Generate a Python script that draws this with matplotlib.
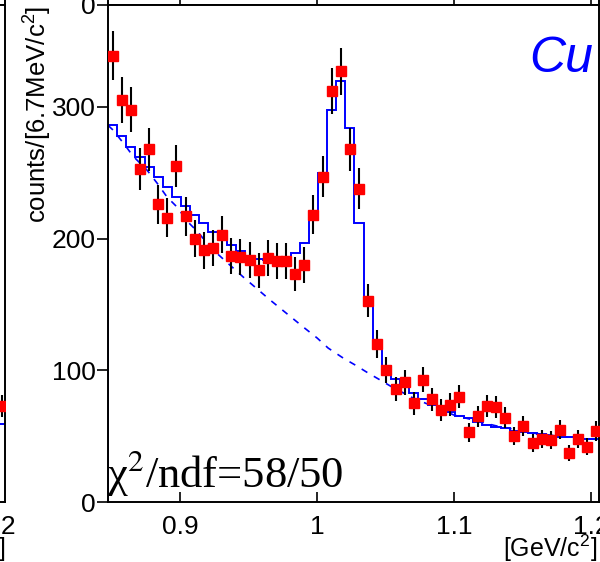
import numpy as np
import matplotlib
matplotlib.use('Agg')
import matplotlib.pyplot as plt

plt.rcParams['font.family'] = ['Liberation Sans', 'DejaVu Sans']
plt.rcParams['mathtext.fontset'] = 'custom'
plt.rcParams['mathtext.rm'] = 'Liberation Sans'
plt.rcParams['mathtext.it'] = 'Liberation Sans:italic'

# binning: 6.7 MeV bins
bin_lo = 0.84717
bin_w = 0.00667
x_range = (0.84717, 1.2059)
y_range = (0, 377.4)

# measured counts per bin (Cu)
counts = [339, 305, 298, 253, 268, 226, 216, 255, 217, 200,
          191, 193, 203, 187, 186, 184, 176, 185, 183, 183,
          173, 180, 218, 247, 312, 327, 268, 238, 153, 120,
          100, 86, 91, 75, 93, 78, 70, 74, 80, 53,
          65, 73, 72, 64, 50, 58, 45, 48, 47, 55,
          37, 48, 42, 54]

# fit (signal + background), drawn as histogram
fit = [286.3, 278.1, 269.8, 261.7, 254.1, 246.5, 238.9, 231.4, 224.8, 217.9,
       211.6, 205.2, 199.7, 195.1, 190.8, 186.3, 184.3, 183.8, 183.8, 185.0,
       189.3, 196.3, 214.7, 250.1, 297.6, 319.9, 284.2, 211.6, 152.9, 120.0,
       103.3, 93.4, 87.6, 82.5, 78.2, 73.7, 70.6, 68.1, 65.3, 63.5,
       61.0, 58.5, 57.2, 55.9, 54.2, 53.4, 52.2, 51.4, 50.4, 49.6,
       49.1, 48.6, 48.1, 47.8]

# background curve (dashed)
bg_x = [0.8472, 0.8508, 0.8595, 0.8654, 0.8756, 0.8830, 0.8903, 0.8976, 0.9056,
        0.9129, 0.9217, 0.9305, 0.9386, 0.9459, 0.9656, 0.9898, 1.0000, 1.0080,
        1.0190, 1.0278, 1.0373, 1.0461, 1.0534, 1.07, 1.10, 1.13, 1.16, 1.19, 1.2059]
bg_y = [286.0, 282.5, 271.1, 262.7, 252.1, 242.2, 231.6, 224.0, 212.6,
        205.0, 193.6, 185.3, 177.7, 170.9, 153.4, 132.9, 124.5, 116.9,
        109.3, 104.0, 97.9, 92.6, 88.1, 79.0, 66.0, 58.0, 52.0, 48.5, 47.5]

# neighbouring panel (only its last bin is visible)
left_counts = [73]
left_fit = [59]

xticks = [0.9, 1.0, 1.1, 1.2]
xticklabels = ['0.9', '1', '1.1', '1.2']
yticks = [0, 100, 200, 300]
yticklabels = ['0', '100', '200', '300']

edges = bin_lo + bin_w * np.arange(len(counts) + 1)
centers = 0.5 * (edges[:-1] + edges[1:])

W, H = 600, 562
fig = plt.figure(figsize=(W / 100, H / 100), dpi=100)


def px_axes(x0, y0, x1, y1):
    return fig.add_axes([x0 / W, 1 - y1 / H, (x1 - x0) / W, (y1 - y0) / H])


def style(a, xlabels=True, ylabels=True):
    a.set_xlim(*x_range)
    a.set_ylim(*y_range)
    for s in a.spines.values():
        s.set_linewidth(1.4)
    a.set_xticks(xticks)
    a.set_yticks(yticks)
    a.set_xticklabels(xticklabels if xlabels else [])
    a.set_yticklabels(yticklabels if ylabels else [])
    a.tick_params(axis='x', direction='in', length=7, width=1.2, pad=9, labelsize=19)
    a.tick_params(axis='y', direction='out', length=8, width=1.2, pad=1, labelsize=19)


topleft = px_axes(-486, -492, 5, 5)
style(topleft, False, False)
top = px_axes(108, -492, 599, 5)
style(top, False, True)
left = px_axes(-486, 5, 5, 502)
style(left, True, False)
ax = px_axes(108, 5, 599, 502)
style(ax)

# main panel
ax.plot(bg_x, bg_y, color='blue', lw=1.2, dashes=(4, 4.5))
ax.stairs(fit, edges, color='blue', lw=1.4)
ax.errorbar(centers, counts, yerr=np.sqrt(counts), fmt='s', ms=7.5,
            mfc='red', mec='red', ecolor='black', elinewidth=1.5, capsize=0, zorder=3)

# left panel
left.stairs(left_fit, edges[-2:], color='blue', lw=1.4)
left.errorbar(centers[-1:], left_counts, yerr=np.sqrt(left_counts), fmt='s', ms=7.5,
              mfc='red', mec='red', ecolor='black', elinewidth=1.5, capsize=0, zorder=3)

fig.text(593 / W, 1 - 72 / H, 'Cu', ha='right', va='baseline', fontsize=36,
         style='italic', color='blue')
fig.text(107 / W, 1 - 487 / H, r'χ$^{2}$/ndf=58/50', ha='left', va='baseline',
         fontsize=32, family=['Liberation Serif', 'DejaVu Serif'], math_fontfamily='stix')
fig.text(38 / W, 1 - 114 / H, r'counts/[6.7MeV/c$^{2}$]', rotation=90, ha='center',
         va='center', fontsize=18.5)
fig.text(597 / W, 1 - 557 / H, r'[GeV/c$^{2}$]', ha='right', va='baseline', fontsize=18)
fig.text(5 / W, 1 - 557 / H, r'[GeV/c$^{2}$]', ha='right', va='baseline', fontsize=18)

fig.savefig('out.png', dpi=100)
